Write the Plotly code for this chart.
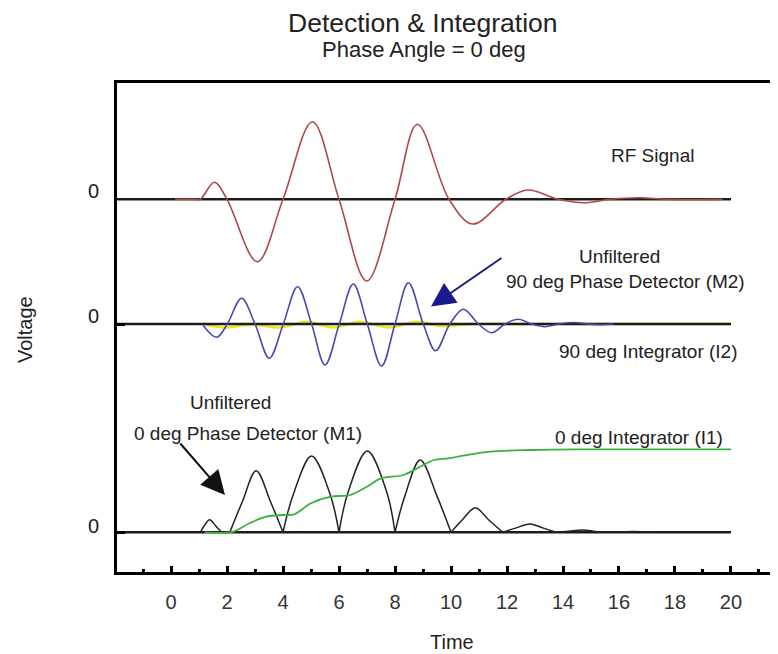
import plotly.graph_objects as go

# ---------------- data ----------------
# vertical offsets of the three traces (arbitrary voltage units)
BASE_RF = 33.3
BASE_M2 = 20.83
BASE_M1 = 0.0
BASE_T = [-2, 20]

# RF signal
rf_t = [0.15, 0.9, 1.05, 1.55, 2.0, 3.08, 4.0, 5.05, 6.0, 6.99, 8.0, 8.8, 9.93,
        10.77, 11.96, 12.75, 13.83, 14.75, 15.7, 16.75, 17.7, 19.7]
rf_v = [0, 0, 0, 1.7, 0, -6.24, 0, 7.76, 0, -8.17, 0, 7.5, 0,
        -2.47, 0, 0.93, 0, -0.34, 0, 0.15, 0, 0]

# Unfiltered 90 deg phase detector (M2)
m2_t = [1.15, 1.63, 2.01, 2.52, 3.0, 3.51, 4.01, 4.52, 5.02, 5.5, 6.01, 6.51, 7.01,
        7.52, 8.0, 8.48, 9.01, 9.45, 9.96, 10.44, 10.98, 11.45, 11.93, 12.4, 12.88,
        13.35, 13.85, 14.4, 14.9, 15.4, 15.8]
m2_v = [-0.15, -1.33, 0, 2.57, 0, -3.43, 0, 3.73, 0, -4.1, 0, 4.0, 0,
        -4.2, 0, 4.13, 0, -2.67, 0, 1.47, 0, -0.87, 0, 0.47, 0,
        -0.27, 0, 0.15, 0, -0.08, 0]

# 90 deg integrator (I2)
i2_t = [1.15, 1.9, 2.9, 3.9, 4.85, 5.8, 6.75, 7.8, 8.77, 9.7, 10.7, 12.0, 20.0]
i2_v = [0, -0.35, -0.05, -0.35, 0.22, -0.35, 0.22, -0.35, 0.22, -0.22, 0, 0, 0]

# Unfiltered 0 deg phase detector (M1): lobes (start, half-rise, peak, half-fall, end)
m1_start = [1.05, 2.1, 4.0, 6.0, 8.0, 10.0, 11.85, 13.75, 15.4]
m1_half_l = [1.18, 2.55, 4.37, 6.33, 8.35, 10.4, 12.3, 14.2, 15.9]
m1_peak_t = [1.38, 3.04, 5.02, 7.01, 8.9, 10.87, 12.82, 14.7, 16.5]
m1_peak_v = [1.25, 6.16, 7.63, 8.13, 7.23, 2.46, 0.83, 0.23, 0.08]
m1_half_r = [1.6, 3.55, 5.68, 7.7, 9.5, 11.35, 13.3, 15.1, 17.0]
m1_end = [1.8, 4.0, 6.0, 8.0, 10.0, 11.85, 13.75, 15.4, 17.5]

# 0 deg integrator (I1)
i1_t = [1.2, 2.2, 2.8, 3.4, 4.0, 4.4, 5.0, 5.7, 6.4, 7.0, 7.5, 8.3, 8.9, 9.4, 9.9,
        10.5, 11.4, 12.9, 14.5, 20.0]
i1_v = [0, 0.05, 0.9, 1.56, 1.73, 1.8, 2.9, 3.56, 3.73, 4.56, 5.4, 5.73, 6.56, 7.23, 7.4,
        7.7, 8.06, 8.23, 8.3, 8.3]

x_tickvals = list(range(0, 21, 2))
x_minorvals = list(range(-1, 22, 2))

# ---------------- layout geometry ----------------
PAGE_OFF = 8                 # default body margin of the html page
W, H = 778 - PAGE_OFF, 654 - PAGE_OFF
ML, MR, MT, MB = 117 - PAGE_OFF, 0, 83 - PAGE_OFF, 82
XR = [-1.929, 21.679]
YR = [-3.97, 44.93]

def px2paper(px, py):
    px -= PAGE_OFF
    py -= PAGE_OFF
    return (px - ML) / (W - ML - MR), (H - MB - py) / (H - MT - MB)

def px2data(px, py):
    fx, fy = px2paper(px, py)
    return XR[0] + fx * (XR[1] - XR[0]), YR[0] + fy * (YR[1] - YR[0])

FONT = "Liberation Sans, Arial, Helvetica, sans-serif"

fig = go.Figure()

# yellow integrator under the baseline
fig.add_trace(go.Scatter(x=i2_t, y=[v + BASE_M2 for v in i2_v], mode="lines",
                         line=dict(color="#e8e81a", width=2.4, shape="spline"),
                         hoverinfo="skip", showlegend=False))

for b in (BASE_RF, BASE_M2, BASE_M1):
    fig.add_trace(go.Scatter(x=BASE_T, y=[b, b], mode="lines",
                             line=dict(color="#1c1c1c", width=2.4),
                             hoverinfo="skip", showlegend=False))

fig.add_trace(go.Scatter(x=rf_t, y=[v + BASE_RF for v in rf_v], mode="lines",
                         line=dict(color="#b04848", width=1.6, shape="spline"),
                         name="RF Signal", showlegend=False))

fig.add_trace(go.Scatter(x=m2_t, y=[v + BASE_M2 for v in m2_v], mode="lines",
                         line=dict(color="#4848b4", width=1.6, shape="spline"),
                         name="M2", showlegend=False))

mx, my = [], []
for s, hl, pt, pv, hr, e in zip(m1_start, m1_half_l, m1_peak_t, m1_peak_v, m1_half_r, m1_end):
    mx += [s, hl, pt, hr, e, None]
    my += [BASE_M1, BASE_M1 + pv / 2, BASE_M1 + pv, BASE_M1 + pv / 2, BASE_M1, None]
fig.add_trace(go.Scatter(x=mx, y=my, mode="lines",
                         line=dict(color="#222222", width=1.5, shape="spline"),
                         connectgaps=False, name="M1", showlegend=False))

fig.add_trace(go.Scatter(x=i1_t, y=[v + BASE_M1 for v in i1_v], mode="lines",
                         line=dict(color="#3cb044", width=1.8, shape="spline"),
                         name="I1", showlegend=False))

ann = []

def text_at(txt, px, py, size=19, angle=0):
    fx, fy = px2paper(px, py)
    ann.append(dict(text=txt, x=fx, y=fy, xref="paper", yref="paper",
                    xanchor="center", yanchor="middle", showarrow=False,
                    textangle=angle, font=dict(family=FONT, size=size, color="#222")))

text_at("Detection &amp; Integration", 423, 23, 26.5)
text_at("Phase Angle = 0 deg", 424, 49, 22)
text_at("RF Signal", 652, 155)
text_at("Unfiltered", 619, 256)
text_at("90 deg Phase Detector (M2)", 625, 281)
text_at("90 deg Integrator (I2)", 648, 351)
text_at("Unfiltered", 230, 402)
text_at("0 deg Phase Detector (M1)", 248, 433)
text_at("0 deg Integrator (I1)", 639, 437)
text_at("Time", 452, 642, 20)
text_at("Voltage", 25, 330, 20, -90)
for py in (190.7, 315.7, 526):
    text_at("0", 93, py, 20)

def arrow(tip, tail, color):
    x, y = px2data(*tip)
    ax, ay = px2data(*tail)
    ann.append(dict(x=x, y=y, ax=ax, ay=ay, xref="x", yref="y", axref="x", ayref="y",
                    text="", showarrow=True, arrowhead=2, arrowsize=2.4,
                    arrowwidth=2, arrowcolor=color))

arrow((431, 306.5), (503, 257), "#1a1a8c")
arrow((225, 495), (179, 442), "#111111")

fig.update_layout(
    width=W, height=H,
    margin=dict(l=ML, r=MR, t=MT, b=MB),
    paper_bgcolor="white", plot_bgcolor="white",
    showlegend=False,
    annotations=ann,
    xaxis=dict(range=XR, showgrid=False, zeroline=False,
               showline=True, linewidth=3, linecolor="black", mirror=True,
               ticks="inside", tickvals=x_tickvals, ticklen=6, tickwidth=2.5,
               tickcolor="black", ticklabelstandoff=10,
               tickfont=dict(family=FONT, size=20, color="#333"),
               minor=dict(tickvals=x_minorvals, ticks="inside", ticklen=3,
                          tickwidth=2.5, tickcolor="black")),
    yaxis=dict(range=YR, showgrid=False, zeroline=False,
               showline=True, linewidth=3, linecolor="black", mirror=False,
               ticks="inside", tickvals=[BASE_M2, BASE_M1], ticklen=8, tickwidth=3,
               tickcolor="black", showticklabels=False),
)

fig.write_html("out.html")
